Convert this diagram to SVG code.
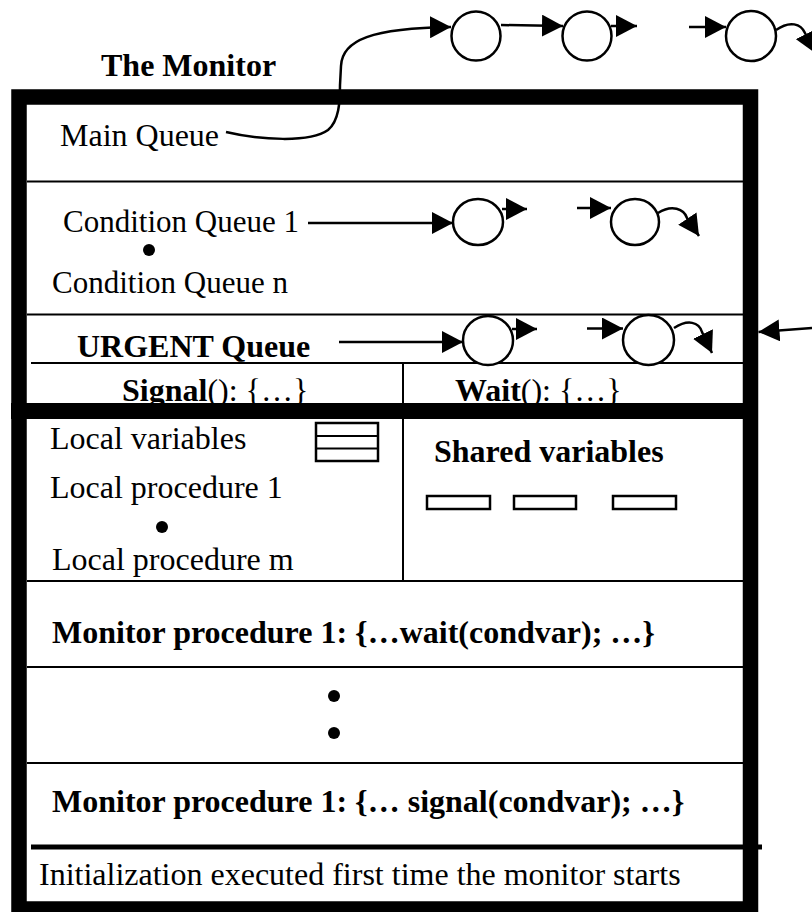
<svg xmlns="http://www.w3.org/2000/svg" width="812" height="912" viewBox="0 0 812 912">
  <defs>
    <style>
      text { font-family: "Liberation Serif", "Times New Roman", serif; font-size: 32px; fill: #000; }
      .b { font-weight: bold; }
      .q { font-size: 31px; }
      .rule { stroke: #000; stroke-width: 2; fill: none; }
      .proc { fill: #fff; stroke: #000; stroke-width: 2.5; }
      .box { fill: #fff; stroke: #000; stroke-width: 2.5; }
      .dot { fill: #000; }
      .wire { fill: none; stroke: #000; stroke-width: 2.5; }
    </style>
    <marker id="head" markerUnits="userSpaceOnUse" markerWidth="22" markerHeight="22" refX="21" refY="11" orient="auto">
      <path d="M0,0 L21,11 L0,22 z" fill="#000"/>
    </marker>
  </defs>

  <rect x="0" y="0" width="812" height="912" fill="#fff"/>

  <!-- title -->
  <g id="title">
    <text class="b" x="101" y="76">The Monitor</text>
  </g>

  <!-- monitor frame and section rules -->
  <g id="monitor-frame">
    <rect x="19" y="97" width="731.5" height="812" fill="#fff" stroke="#000" stroke-width="15.5"/>
    <line class="rule" x1="27" y1="181.5" x2="743" y2="181.5"/>
    <line class="rule" x1="27" y1="314.5" x2="743" y2="314.5"/>
    <line class="rule" x1="31" y1="363" x2="743" y2="363"/>
    <line class="rule" x1="403" y1="363" x2="403" y2="405"/>
    <line class="rule" x1="403" y1="418" x2="403" y2="581"/>
    <line class="rule" x1="27" y1="581" x2="743" y2="581" stroke-width="2.5"/>
    <line class="rule" x1="27" y1="667" x2="743" y2="667"/>
    <line class="rule" x1="27" y1="763" x2="743" y2="763"/>
  </g>

  <!-- main queue -->
  <g id="main-queue">
    <text x="60" y="146">Main Queue</text>
  </g>

  <!-- condition queues -->
  <g id="condition-queues">
    <text class="q" x="63" y="232">Condition Queue 1</text>
    <circle class="dot" cx="149" cy="250" r="6"/>
    <text class="q" x="52" y="293">Condition Queue n</text>
  </g>

  <!-- urgent queue -->
  <g id="urgent-queue">
    <text class="b" x="77" y="357">URGENT Queue</text>
  </g>

  <!-- signal / wait -->
  <g id="signal-op">
    <text x="122" y="401"><tspan class="b">Signal</tspan>(): {…}</text>
  </g>
  <g id="wait-op">
    <text x="455" y="401"><tspan class="b">Wait</tspan>(): {…}</text>
  </g>

  <!-- heavy bar between the queue area and the body -->
  <rect x="11" y="403" width="747" height="16" fill="#000"/>

  <!-- local part -->
  <g id="local-section">
    <text x="50" y="449">Local variables</text>
    <rect class="box" x="316" y="423" width="62" height="38"/>
    <line class="rule" x1="316" y1="436" x2="378" y2="436" stroke-width="2.5"/>
    <line class="rule" x1="316" y1="448.5" x2="378" y2="448.5" stroke-width="2.5"/>
    <text x="50" y="498">Local procedure 1</text>
    <circle class="dot" cx="162" cy="527" r="6"/>
    <text x="52" y="570">Local procedure m</text>
  </g>

  <!-- shared part -->
  <g id="shared-section">
    <text class="b" x="434" y="462">Shared variables</text>
    <rect class="box" x="427" y="496" width="63" height="13"/>
    <rect class="box" x="514" y="496" width="62" height="13"/>
    <rect class="box" x="613" y="496" width="63" height="13"/>
  </g>

  <!-- monitor procedures -->
  <g id="procedure-wait">
    <text class="b" x="52" y="643">Monitor procedure 1: {…wait(condvar); …}</text>
  </g>
  <g id="procedure-more">
    <circle class="dot" cx="334" cy="696" r="6"/>
    <circle class="dot" cx="334" cy="733" r="6"/>
  </g>
  <g id="procedure-signal">
    <text class="b" x="52" y="812">Monitor procedure 1: {… signal(condvar); …}</text>
  </g>

  <!-- initialization -->
  <g id="init">
    <line x1="31" y1="847" x2="762" y2="847" stroke="#000" stroke-width="5"/>
    <text x="39" y="885">Initialization executed first time the monitor starts</text>
  </g>

  <!-- waiting processes -->
  <g id="proc-main-1"><circle class="proc" cx="476" cy="36" r="24.5"/></g>
  <g id="proc-main-2"><circle class="proc" cx="587" cy="36" r="24.5"/></g>
  <g id="proc-main-3"><circle class="proc" cx="751" cy="36" r="25"/></g>
  <g id="proc-cond-1"><ellipse class="proc" cx="478" cy="222" rx="25" ry="23"/></g>
  <g id="proc-cond-2"><ellipse class="proc" cx="635" cy="222" rx="24" ry="23"/></g>
  <g id="proc-urgent-1"><ellipse class="proc" cx="488" cy="340.5" rx="25" ry="24.5"/></g>
  <g id="proc-urgent-2"><ellipse class="proc" cx="648.5" cy="340" rx="25.5" ry="25"/></g>

  <!-- connectors -->
  <g id="connectors">
    <!-- main queue -->
    <path class="wire" d="M226,132 C260,140 310,143 328,130 C339,121 340,102 340,85 L341,66 C342,40 372,28 451,27" marker-end="url(#head)"/>
    <line class="wire" x1="501" y1="25" x2="563" y2="26" marker-end="url(#head)"/>
    <line class="wire" x1="611" y1="26" x2="637" y2="26" marker-end="url(#head)"/>
    <line class="wire" x1="689" y1="27" x2="726" y2="27" marker-end="url(#head)"/>
    <path class="wire" d="M776,30 C790,20 801,24 805,33 L815,53" marker-end="url(#head)"/>
    <!-- condition queue 1 -->
    <line class="wire" x1="308" y1="223" x2="453" y2="223" marker-end="url(#head)"/>
    <line class="wire" x1="502" y1="209" x2="527" y2="209" marker-end="url(#head)"/>
    <line class="wire" x1="577" y1="208" x2="611" y2="208" marker-end="url(#head)"/>
    <path class="wire" d="M658,213 C672,204 684,209 687,218 L699,236" marker-end="url(#head)"/>
    <!-- urgent queue -->
    <line class="wire" x1="339" y1="342" x2="463" y2="342" marker-end="url(#head)"/>
    <line class="wire" x1="512" y1="329" x2="537" y2="329" marker-end="url(#head)"/>
    <line class="wire" x1="587" y1="328.5" x2="623" y2="328.5" marker-end="url(#head)"/>
    <path class="wire" d="M674,328 C688,319 699,322 702,332 L712,353" marker-end="url(#head)"/>
    <!-- entry into the urgent queue -->
    <line class="wire" x1="812" y1="328" x2="758.5" y2="332" marker-end="url(#head)"/>
  </g>
</svg>
